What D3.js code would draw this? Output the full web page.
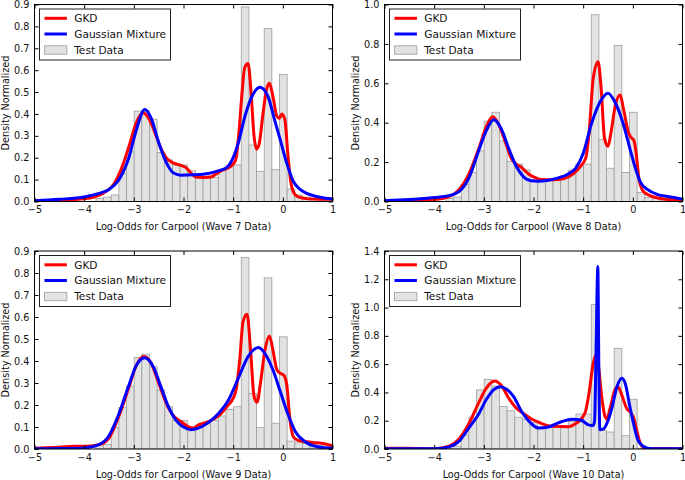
<!DOCTYPE html>
<html><head><meta charset="utf-8">
<script src="https://cdn.jsdelivr.net/npm/d3@7"></script>
<style>body{margin:0;background:#fff}svg{display:block}text{font-family:'DejaVu Sans',sans-serif}</style>
</head><body><svg id="c" width="685" height="480"></svg>
<script>
// ---------------- data ----------------
const xTicks = [-5, -4, -3, -2, -1, 0, 1];
const yTicksA = [0, 0.1, 0.2, 0.3, 0.4, 0.5, 0.6, 0.7, 0.8, 0.9];
const yTicksB = [0, 0.2, 0.4, 0.6, 0.8, 1.0];
const yTicksC = [0, 0.2, 0.4, 0.6, 0.8, 1.0, 1.2, 1.4];
const xLabels = ["Log-Odds for Carpool (Wave 7 Data)", "Log-Odds for Carpool (Wave 8 Data)",
                 "Log-Odds for Carpool (Wave 9 Data)", "Log-Odds for Carpool (Wave 10 Data)"];
const yLabel = "Density Normalized";
const legendNames = ["GKD", "Gaussian Mixture", "Test Data"];
const binStart = -3.763, binWidth = 0.154;

const hist7 = [0.014,0.02,0.03,0.128,0.23,0.413,0.415,0.376,0.224,0.19,0.167,0.167,0.14,0.106,0.106,0.11,0.14,0.163,0.167,0.889,0.258,0.138,0.79,0.145,0.58,0.057,0.03,0.02,0.015,0.012,0.01];
const hist8 = [0.015,0.023,0.086,0.147,0.257,0.408,0.453,0.307,0.203,0.19,0.16,0.108,0.113,0.113,0.117,0.13,0.159,0.19,0.19,0.948,0.315,0.169,0.792,0.147,0.453,0.046,0.02,0.015,0.01,0.008,0.005];
const hist9 = [0.021,0.021,0.098,0.189,0.286,0.416,0.431,0.374,0.268,0.192,0.129,0.129,0.09,0.108,0.115,0.13,0.15,0.18,0.192,0.87,0.253,0.097,0.778,0.117,0.51,0.036,0.028,0.025,0.02,0.015,0.01];
const hist10 = [0.005,0.02,0.10,0.225,0.418,0.493,0.446,0.30,0.27,0.225,0.21,0.186,0.155,0.155,0.155,0.155,0.195,0.247,0.247,1.022,0.13,0.12,0.712,0.094,0.352,0.005,0.003,0.003,0.002,0.002,0.002];

const gkd7 = [[-5,0.004],[-4.5,0.006],[-4,0.012],[-3.8,0.02],[-3.6,0.04],[-3.4,0.08],[-3.25,0.15],[-3.1,0.25],[-2.95,0.36],[-2.82,0.405],[-2.7,0.38],[-2.55,0.3],[-2.45,0.24],[-2.35,0.2],[-2.2,0.175],[-2.05,0.165],[-1.95,0.155],[-1.85,0.13],[-1.75,0.112],[-1.6,0.11],[-1.45,0.112],[-1.35,0.125],[-1.2,0.145],[-1.05,0.16],[-0.95,0.19],[-0.89,0.3],[-0.82,0.5],[-0.77,0.61],[-0.7,0.63],[-0.64,0.5],[-0.58,0.3],[-0.53,0.24],[-0.48,0.26],[-0.4,0.4],[-0.33,0.51],[-0.27,0.54],[-0.2,0.48],[-0.12,0.39],[-0.07,0.38],[-0.02,0.40],[0.04,0.375],[0.1,0.22],[0.16,0.09],[0.22,0.04],[0.3,0.022],[0.5,0.012],[0.75,0.01],[1,0.01]];
const gmm7 = [[-5,0.003],[-4.5,0.01],[-4,0.021],[-3.7,0.037],[-3.5,0.055],[-3.3,0.1],[-3.1,0.2],[-2.95,0.327],[-2.78,0.42],[-2.65,0.38],[-2.5,0.27],[-2.35,0.18],[-2.2,0.13],[-2.05,0.12],[-1.8,0.122],[-1.5,0.128],[-1.3,0.14],[-1.13,0.155],[-1.0,0.2],[-0.9,0.265],[-0.75,0.4],[-0.6,0.49],[-0.46,0.522],[-0.3,0.48],[-0.15,0.36],[-0.05,0.28],[0.08,0.174],[0.215,0.09],[0.35,0.055],[0.48,0.037],[0.7,0.022],[1,0.011]];
const gkd8 = [[-5,0.004],[-4.5,0.005],[-4,0.01],[-3.7,0.025],[-3.5,0.06],[-3.3,0.14],[-3.1,0.27],[-2.95,0.38],[-2.82,0.43],[-2.7,0.39],[-2.55,0.29],[-2.45,0.22],[-2.35,0.19],[-2.25,0.175],[-2.1,0.14],[-2.0,0.125],[-1.85,0.112],[-1.6,0.11],[-1.4,0.115],[-1.2,0.14],[-1.05,0.18],[-0.95,0.22],[-0.88,0.35],[-0.8,0.62],[-0.7,0.71],[-0.64,0.58],[-0.57,0.32],[-0.5,0.28],[-0.44,0.35],[-0.35,0.49],[-0.26,0.54],[-0.18,0.46],[-0.1,0.36],[-0.05,0.33],[0.02,0.31],[0.07,0.24],[0.12,0.12],[0.2,0.055],[0.3,0.035],[0.5,0.018],[0.7,0.01],[1,0.008]];
const gmm8 = [[-5,0.004],[-4.5,0.01],[-4,0.02],[-3.7,0.03],[-3.5,0.05],[-3.3,0.12],[-3.1,0.26],[-2.95,0.36],[-2.8,0.415],[-2.65,0.37],[-2.5,0.27],[-2.35,0.18],[-2.2,0.125],[-2.05,0.105],[-1.9,0.103],[-1.7,0.108],[-1.5,0.12],[-1.3,0.14],[-1.15,0.17],[-1.0,0.244],[-0.83,0.397],[-0.65,0.51],[-0.5,0.55],[-0.35,0.5],[-0.2,0.4],[-0.05,0.26],[0.05,0.17],[0.15,0.1],[0.3,0.06],[0.5,0.035],[0.7,0.025],[1,0.012]];
const gkd9 = [[-5,0.003],[-4.5,0.008],[-4.2,0.012],[-4,0.012],[-3.7,0.02],[-3.5,0.05],[-3.3,0.15],[-3.1,0.28],[-2.95,0.38],[-2.8,0.42],[-2.65,0.39],[-2.5,0.3],[-2.35,0.21],[-2.2,0.15],[-2.05,0.125],[-1.9,0.1],[-1.8,0.095],[-1.7,0.11],[-1.55,0.12],[-1.4,0.135],[-1.25,0.16],[-1.1,0.2],[-1.0,0.23],[-0.94,0.27],[-0.87,0.4],[-0.8,0.58],[-0.72,0.613],[-0.65,0.45],[-0.58,0.24],[-0.52,0.212],[-0.45,0.3],[-0.36,0.45],[-0.27,0.514],[-0.2,0.45],[-0.12,0.36],[-0.04,0.343],[0.02,0.335],[0.08,0.29],[0.14,0.14],[0.21,0.056],[0.3,0.04],[0.6,0.03],[0.8,0.025],[1,0.015]];
const gmm9 = [[-5,0.001],[-4.5,0.002],[-4,0.005],[-3.7,0.02],[-3.5,0.06],[-3.3,0.16],[-3.1,0.29],[-2.95,0.38],[-2.78,0.415],[-2.6,0.37],[-2.45,0.28],[-2.3,0.19],[-2.15,0.13],[-2.0,0.1],[-1.85,0.088],[-1.7,0.095],[-1.5,0.12],[-1.3,0.16],[-1.1,0.22],[-0.9,0.32],[-0.7,0.42],[-0.49,0.461],[-0.35,0.43],[-0.2,0.36],[-0.05,0.26],[0.1,0.16],[0.25,0.08],[0.45,0.033],[0.7,0.01],[1,0.003]];
const gkd10 = [[-5,0.005],[-4.6,0.005],[-4,0.002],[-3.7,0.02],[-3.5,0.07],[-3.3,0.18],[-3.1,0.33],[-2.95,0.43],[-2.785,0.48],[-2.65,0.45],[-2.5,0.36],[-2.35,0.29],[-2.2,0.25],[-2.03,0.21],[-1.9,0.19],[-1.765,0.171],[-1.6,0.16],[-1.3,0.157],[-1.15,0.18],[-1.026,0.218],[-0.95,0.27],[-0.88,0.4],[-0.8,0.6],[-0.744,0.665],[-0.69,0.58],[-0.62,0.35],[-0.56,0.23],[-0.523,0.213],[-0.45,0.3],[-0.36,0.42],[-0.3,0.441],[-0.22,0.38],[-0.12,0.284],[-0.05,0.26],[0.02,0.215],[0.08,0.13],[0.14,0.05],[0.2,0.015],[0.3,0.004],[0.6,0.004],[1,0.002]];
const gmm10 = [[-5,0.001],[-4,0.002],[-3.7,0.015],[-3.5,0.054],[-3.3,0.15],[-3.1,0.25],[-2.95,0.35],[-2.8,0.42],[-2.67,0.441],[-2.55,0.425],[-2.4,0.37],[-2.23,0.26],[-2.1,0.2],[-1.9,0.148],[-1.7,0.155],[-1.5,0.185],[-1.227,0.211],[-1.05,0.205],[-0.893,0.171],[-0.8,0.166],[-0.77,0.2],[-0.74,0.7],[-0.705,1.29],[-0.685,0.6],[-0.665,0.136],[-0.6,0.14],[-0.5,0.2],[-0.422,0.289],[-0.32,0.44],[-0.22,0.5],[-0.15,0.46],[-0.06,0.3],[0.02,0.17],[0.114,0.054],[0.25,0.012],[0.4,0.002],[1,0.001]];

const histData = [hist7, hist8, hist9, hist10];
const gkdData = [gkd7, gkd8, gkd9, gkd10];
const gmmData = [gmm7, gmm8, gmm9, gmm10];
const yMaxes = [0.9, 1.0, 0.9, 1.4];
const yTickSets = [yTicksA, yTicksB, yTicksA, yTicksC];

// ---------------- layout / style ----------------
const layout = [
  {x0: 34.5, y0: 4.5, w: 298, h: 197},
  {x0: 384.5, y0: 4.5, w: 298, h: 197},
  {x0: 34.5, y0: 251, w: 298, h: 198},
  {x0: 384.5, y0: 251, w: 298, h: 198}
];
const RED = "#ff0000", BLUE = "#0000ff", BAR_FILL = "#e2e2e2", BAR_EDGE = "#9d9d9d";
const TICK_FS = 9.7, LABEL_FS = 9.7, LEG_FS = 10.6;
const fmtX = d => d < 0 ? "\u2212" + Math.abs(d) : String(d);

const svg = d3.select("#c");

layout.forEach((L, p) => {
  const g = svg.append("g").attr("transform", `translate(${L.x0},${L.y0})`);
  const x = d3.scaleLinear().domain([-5, 1]).range([0, L.w]);
  const y = d3.scaleLinear().domain([0, yMaxes[p]]).range([L.h, 0]);

  const cid = "clip" + p;
  g.append("clipPath").attr("id", cid).append("rect").attr("width", L.w).attr("height", L.h);
  const pg = g.append("g").attr("clip-path", `url(#${cid})`);

  const bins = histData[p].map((v, i) => ({a: binStart + i * binWidth, b: binStart + (i + 1) * binWidth, v}));
  pg.selectAll("rect.bar").data(bins).join("rect").attr("class", "bar")
    .attr("x", d => x(d.a)).attr("width", d => x(d.b) - x(d.a))
    .attr("y", d => y(d.v)).attr("height", d => L.h - y(d.v))
    .attr("fill", BAR_FILL).attr("stroke", BAR_EDGE).attr("stroke-width", 0.8);

  const line = d3.line().x(d => x(d[0])).y(d => y(d[1])).curve(d3.curveMonotoneX);
  pg.append("path").attr("d", line(gkdData[p])).attr("fill", "none").attr("stroke", RED)
    .attr("stroke-width", 3).attr("stroke-linejoin", "round");
  pg.append("path").attr("d", line(gmmData[p])).attr("fill", "none").attr("stroke", BLUE)
    .attr("stroke-width", 3).attr("stroke-linejoin", "round");

  // axes (inward ticks on all four sides)
  const styleAxis = sel => {
    sel.select(".domain").remove();
    sel.selectAll(".tick line").attr("stroke", "#000");
    sel.selectAll("text").attr("font-family", "DejaVu Sans").attr("font-size", TICK_FS).attr("fill", "#111");
  };
  g.append("g").attr("transform", `translate(0,${L.h})`)
    .call(d3.axisBottom(x).tickValues(xTicks).tickSizeInner(-4).tickSizeOuter(0).tickPadding(5).tickFormat(fmtX))
    .call(styleAxis);
  g.append("g")
    .call(d3.axisTop(x).tickValues(xTicks).tickSizeInner(-4).tickSizeOuter(0).tickFormat(""))
    .call(styleAxis);
  g.append("g")
    .call(d3.axisLeft(y).tickValues(yTickSets[p]).tickSizeInner(-4).tickSizeOuter(0).tickPadding(5).tickFormat(d3.format(".1f")))
    .call(styleAxis);
  g.append("g").attr("transform", `translate(${L.w},0)`)
    .call(d3.axisRight(y).tickValues(yTickSets[p]).tickSizeInner(-4).tickSizeOuter(0).tickFormat(""))
    .call(styleAxis);

  g.append("rect").attr("width", L.w).attr("height", L.h).attr("fill", "none").attr("stroke", "#000").attr("stroke-width", 1);

  // axis labels
  g.append("text").attr("x", L.w / 2).attr("y", L.h + 25.4).attr("dy", "0.35em")
    .attr("text-anchor", "middle").attr("font-size", LABEL_FS).attr("fill", "#111").text(xLabels[p]);
  g.append("text").attr("transform", `translate(-29,${L.h / 2}) rotate(-90)`).attr("dy", "0.35em")
    .attr("text-anchor", "middle").attr("font-size", LABEL_FS).attr("fill", "#111").text(yLabel);

  // legend
  const lg = g.append("g").attr("transform", "translate(5,4.5)");
  lg.append("rect").attr("width", 131).attr("height", 51).attr("fill", "#fff").attr("stroke", "#222").attr("stroke-width", 1);
  const rows = [9.3, 25, 41];
  lg.append("line").attr("x1", 5).attr("x2", 27.4).attr("y1", rows[0]).attr("y2", rows[0]).attr("stroke", RED).attr("stroke-width", 3);
  lg.append("line").attr("x1", 5).attr("x2", 27.4).attr("y1", rows[1]).attr("y2", rows[1]).attr("stroke", BLUE).attr("stroke-width", 3);
  lg.append("rect").attr("x", 5).attr("y", rows[2] - 4.2).attr("width", 22.4).attr("height", 8.4)
    .attr("fill", BAR_FILL).attr("stroke", BAR_EDGE).attr("stroke-width", 0.8);
  legendNames.forEach((n, i) => {
    lg.append("text").attr("x", 34.7).attr("y", rows[i]).attr("dy", "0.36em")
      .attr("font-size", LEG_FS).attr("fill", "#111").text(n);
  });
});
</script></body></html>
